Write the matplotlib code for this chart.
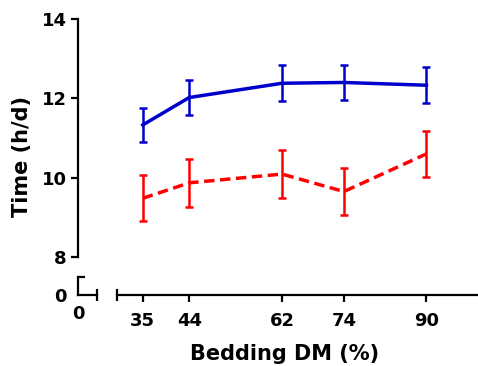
import matplotlib
matplotlib.use("Agg")
import matplotlib.pyplot as plt
from matplotlib.ticker import FixedLocator, NullFormatter

# data
bedding_dm = [35, 44, 62, 74, 90]
blue_mean = [11.33, 12.02, 12.38, 12.40, 12.33]
blue_err = [0.42, 0.45, 0.45, 0.44, 0.45]
red_mean = [9.48, 9.87, 10.09, 9.65, 10.60]
red_err = [0.58, 0.60, 0.60, 0.59, 0.58]

x_ticks = [35, 44, 62, 74, 90]
y_ticks = [8, 10, 12, 14]

W, H = 478, 366
fig = plt.figure(figsize=(W / 100, H / 100), dpi=100)
plt.rcParams['font.family'] = ['DejaVu Sans']

def px_box(x0, y0, x1, y1):
    # pixel box (top-left origin) -> figure fraction rect
    return [x0 / W, 1 - y1 / H, (x1 - x0) / W, (y1 - y0) / H]

BLUE = '#0000CC'
RED = '#FF0000'
tick_font = dict(fontsize=13, fontweight='bold')

# main axes (x 30-100, y 8-14)
ax = fig.add_axes(px_box(117, 19, 478, 257))
ax.errorbar(bedding_dm, blue_mean, yerr=blue_err, color=BLUE, lw=2.5,
            elinewidth=1.8, capsize=3, capthick=1.8, clip_on=False)
ax.errorbar(bedding_dm, red_mean, yerr=red_err, color=RED, lw=2.5,
            elinewidth=1.8, capsize=3, capthick=1.8, ls=(0, (3, 1.6)),
            clip_on=False)
ax.set_xlim(30, 100)
ax.set_ylim(8, 14)
for s in ['top', 'right']:
    ax.spines[s].set_visible(False)
for s in ['left', 'bottom']:
    ax.spines[s].set_linewidth(1.6)
ax.spines['left'].set_position(('outward', 39 * 0.72))
ax.spines['bottom'].set_position(('outward', 38 * 0.72))
ax.set_xticks(x_ticks)
ax.set_yticks(y_ticks)
ax.set_xticklabels([str(v) for v in x_ticks], **tick_font)
ax.set_yticklabels([str(v) for v in y_ticks], **tick_font)
ax.tick_params(which='major', direction='out', length=5, width=1.6, pad=3)
ax.tick_params(axis='x', which='major', pad=7)
ax.xaxis.set_minor_locator(FixedLocator([30]))
ax.yaxis.set_minor_locator(FixedLocator([8]))
ax.xaxis.set_minor_formatter(NullFormatter())
ax.yaxis.set_minor_formatter(NullFormatter())
ax.tick_params(axis='x', which='minor', direction='inout', length=8, width=1.6)
ax.tick_params(axis='y', which='minor', direction='in', length=5, width=1.6)

# small corner segments for the broken axes
ax0 = fig.add_axes(px_box(78, 277, 97, 295))
ax0.patch.set_visible(False)
ax0.set_xlim(0, 1)
ax0.set_ylim(0, 1)
for s in ['top', 'right']:
    ax0.spines[s].set_visible(False)
for s in ['left', 'bottom']:
    ax0.spines[s].set_linewidth(1.6)
ax0.set_xticks([0])
ax0.set_yticks([0])
ax0.set_xticklabels(['0'], **tick_font)
ax0.set_yticklabels(['0'], **tick_font)
ax0.tick_params(axis='y', which='major', length=0, pad=8)
ax0.tick_params(axis='x', which='major', length=0, pad=7)
ax0.xaxis.set_minor_locator(FixedLocator([1]))
ax0.yaxis.set_minor_locator(FixedLocator([1]))
ax0.xaxis.set_minor_formatter(NullFormatter())
ax0.yaxis.set_minor_formatter(NullFormatter())
ax0.tick_params(axis='x', which='minor', direction='inout', length=8, width=1.6)
ax0.tick_params(axis='y', which='minor', direction='in', length=5, width=1.6)

fig.text(22 / W, 1 - 157 / H, 'Time (h/d)', rotation=90, ha='center',
         va='center', fontsize=15, fontweight='bold')
fig.text(285 / W, 1 - 354 / H, 'Bedding DM (%)', ha='center', va='center',
         fontsize=15, fontweight='bold')

fig.savefig('out.png', dpi=100)
